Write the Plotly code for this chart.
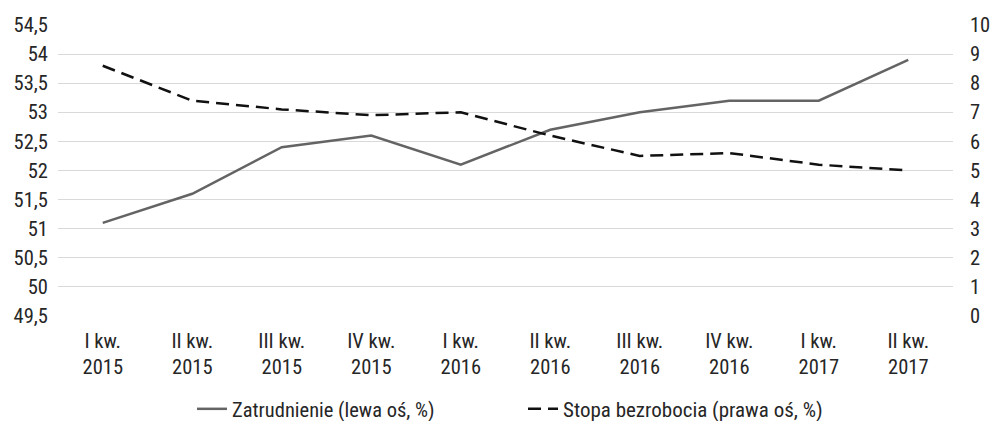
import plotly.graph_objects as go

categories = ["I kw.<br>2015", "II kw.<br>2015", "III kw.<br>2015", "IV kw.<br>2015",
              "I kw.<br>2016", "II kw.<br>2016", "III kw.<br>2016", "IV kw.<br>2016",
              "I kw.<br>2017", "II kw.<br>2017"]
zatrudnienie = [51.1, 51.6, 52.4, 52.6, 52.1, 52.7, 53.0, 53.2, 53.2, 53.9]
stopa_bezrobocia = [8.6, 7.4, 7.1, 6.9, 7.0, 6.2, 5.5, 5.6, 5.2, 5.0]

left_ticks = [49.5, 50, 50.5, 51, 51.5, 52, 52.5, 53, 53.5, 54, 54.5]
left_ticktext = ["49,5", "50", "50,5", "51", "51,5", "52", "52,5", "53", "53,5", "54", "54,5"]
right_ticks = [0, 1, 2, 3, 4, 5, 6, 7, 8, 9, 10]

FONT = "Liberation Sans Narrow, Roboto Condensed, Arial Narrow, Roboto, sans-serif"
FS = 20.5

fig = go.Figure()
fig.add_trace(go.Scatter(x=categories, y=zatrudnienie, mode="lines",
                         name="Zatrudnienie (lewa oś, %)", legend="legend",
                         line=dict(color="#646464", width=2.5)))
fig.add_trace(go.Scatter(x=categories, y=stopa_bezrobocia, mode="lines",
                         name="Stopa bezrobocia (prawa oś, %)", yaxis="y2",
                         legend="legend2",
                         line=dict(color="#111111", width=2.5, dash="13px,7px")))

leg_common = dict(orientation="h", xanchor="left", xref="container",
                  y=(421 - 409) / 421, yanchor="middle", yref="container",
                  bgcolor="rgba(0,0,0,0)")

fig.update_layout(
    width=994, height=421,
    margin=dict(l=58, r=41, t=25, b=105, autoexpand=False),
    paper_bgcolor="white", plot_bgcolor="white",
    font=dict(family=FONT, size=FS, color="#262626"),
    xaxis=dict(showgrid=False, showline=False, zeroline=False, ticks="",
               range=[-0.5, 9.5], tickfont=dict(size=FS), ticklabelstandoff=10,
               automargin=False),
    yaxis=dict(range=[49.5, 54.5], tickvals=left_ticks, ticktext=left_ticktext,
               showgrid=True, gridcolor="#d9d9d9", gridwidth=1, zeroline=False,
               showline=False, ticks="", ticklabelstandoff=9,
               tickfont=dict(size=FS), automargin=False),
    yaxis2=dict(range=[0, 10], tickvals=right_ticks, overlaying="y", side="right",
                showgrid=False, zeroline=False, showline=False, ticks="",
                ticklabelstandoff=16, tickfont=dict(size=FS), automargin=False),
    legend=dict(x=192 / 994, font=dict(size=FS), **leg_common),
    legend2=dict(x=523 / 994, font=dict(size=21), **leg_common),
    showlegend=True,
)

fig.write_html("out.html", config={"displayModeBar": False},
               post_script="document.body.style.margin='0';document.body.style.overflow='hidden';")
